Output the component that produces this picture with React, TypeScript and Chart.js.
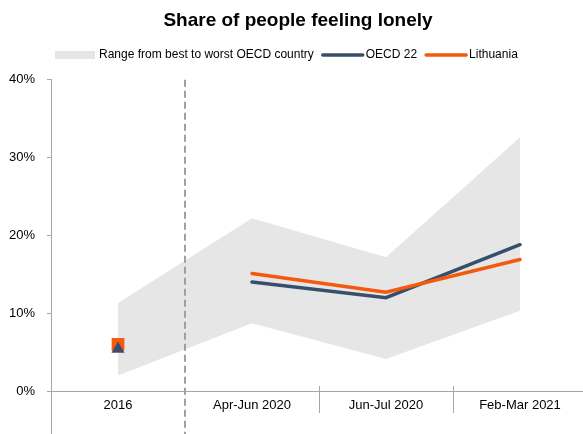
import React, { useEffect, useRef } from "react";
import { Chart, registerables } from "chart.js";

Chart.register(...registerables);

const categories = ["2016", "Apr-Jun 2020", "Jun-Jul 2020", "Feb-Mar 2021"];
const rangeLow = [2.0, 8.7, 4.1, 10.3];
const rangeHigh = [11.3, 22.2, 17.2, 32.6];
const oecd22 = [null, 14.0, 12.0, 18.8];
const lithuania = [null, 15.1, 12.7, 16.9];
const oecd2016 = [5.4, null, null, null];
const lithuania2016 = [6.0, null, null, null];
const yTicks = [0, 10, 20, 30, 40];

const legendItems = [
  { label: "Range from best to worst OECD country", kind: "box", color: "#e6e6e6" },
  { label: "OECD 22", kind: "line", color: "#374f6b" },
  { label: "Lithuania", kind: "line", color: "#f5590c" },
];

const FONT = '"Liberation Sans", Arial, sans-serif';

const decorPlugin = {
  id: "decor",
  afterDraw(chart: any) {
    const { ctx, chartArea, scales } = chart;
    const x = scales.x;
    const bottom = chart.height;
    ctx.save();
    // extend y axis line down
    ctx.strokeStyle = "#a6a6a6";
    ctx.lineWidth = 1;
    ctx.beginPath();
    ctx.moveTo(chartArea.left + 0.5, chartArea.bottom);
    ctx.lineTo(chartArea.left + 0.5, bottom);
    ctx.stroke();
    // category separators
    [1.5, 2.5, 3.5].forEach((v) => {
      const px = Math.round(x.getPixelForValue(v)) + 0.5;
      ctx.beginPath();
      ctx.moveTo(px, chartArea.bottom - 5);
      ctx.lineTo(px, chartArea.bottom + 22);
      ctx.stroke();
    });
    // dashed divider
    const dx = Math.round(x.getPixelForValue(0.5));
    ctx.strokeStyle = "#a0a0a0";
    ctx.lineWidth = 2;
    ctx.setLineDash([7, 4]);
    ctx.beginPath();
    ctx.moveTo(dx, chartArea.top);
    ctx.lineTo(dx, bottom);
    ctx.stroke();
    ctx.setLineDash([]);
    // legend
    ctx.font = "12px " + FONT;
    ctx.textBaseline = "middle";
    ctx.textAlign = "left";
    let cx = 55;
    const cy = 55;
    legendItems.forEach((it) => {
      if (it.kind === "box") {
        ctx.fillStyle = it.color;
        ctx.fillRect(cx, cy - 4, 40, 8);
      } else {
        ctx.strokeStyle = it.color;
        ctx.lineWidth = 3.5;
        ctx.lineCap = "round";
        ctx.beginPath();
        ctx.moveTo(cx + 1, cy);
        ctx.lineTo(cx + 41, cy);
        ctx.stroke();
      }
      cx += 44;
      ctx.fillStyle = "#000";
      ctx.fillText(it.label, cx, cy);
      cx += ctx.measureText(it.label).width + 8;
    });
    ctx.restore();
  },
};

export default function App() {
  const ref = useRef<HTMLCanvasElement>(null);
  useEffect(() => {
    if (!ref.current) return;
    Chart.defaults.font.family = FONT;
    const chart = new Chart(ref.current, {
      type: "line",
      data: {
        labels: categories,
        datasets: [
          {
            label: "OECD 22 2016",
            data: oecd2016,
            showLine: false,
            pointStyle: "triangle",
            pointRadius: 7.5,
            backgroundColor: "#374f6b",
            borderColor: "#374f6b",
            borderWidth: 0,
          },
          {
            label: "Lithuania 2016",
            data: lithuania2016,
            showLine: false,
            pointStyle: "rect",
            pointRadius: 9,
            backgroundColor: "#f5590c",
            borderColor: "#f5590c",
            borderWidth: 0,
          },
          {
            label: "Lithuania",
            data: lithuania,
            borderColor: "#f5590c",
            borderWidth: 3.5,
            pointRadius: 0,
            tension: 0,
            fill: false,
            borderCapStyle: "round",
          },
          {
            label: "OECD 22",
            data: oecd22,
            borderColor: "#374f6b",
            borderWidth: 3.5,
            pointRadius: 0,
            tension: 0,
            fill: false,
            borderCapStyle: "round",
          },
          {
            label: "Range low",
            data: rangeLow,
            borderWidth: 0,
            borderColor: "rgba(0,0,0,0)",
            pointRadius: 0,
            tension: 0,
            fill: false,
          },
          {
            label: "Range from best to worst OECD country",
            data: rangeHigh,
            borderWidth: 0,
            borderColor: "rgba(0,0,0,0)",
            backgroundColor: "#e6e6e6",
            pointRadius: 0,
            tension: 0,
            fill: "-1",
          },
        ],
      },
      options: {
        animation: false,
        responsive: false,
        devicePixelRatio: 1,
        layout: { autoPadding: false, padding: { left: 9, right: 0, top: 0, bottom: 0 } },
        plugins: {
          legend: { display: false },
          tooltip: { enabled: false },
          title: {
            display: true,
            text: "Share of people feeling lonely",
            color: "#000",
            font: { size: 19, weight: "bold", family: FONT },
            padding: { top: 9, bottom: 48 },
          },
        },
        scales: {
          x: {
            offset: true,
            grid: { display: false, drawTicks: false, tickLength: 0 },
            border: { display: true, color: "#a6a6a6", width: 1 },
            ticks: { color: "#000", font: { size: 13 }, padding: 7, maxRotation: 0 },
            afterFit: (s: any) => {
              s.height = 43;
              s.paddingLeft = 0;
              s.paddingRight = 0;
            },
          },
          y: {
            min: 0,
            max: 40,
            afterBuildTicks: (s: any) => {
              s.ticks = yTicks.map((v) => ({ value: v }));
            },
            grid: { display: true, drawOnChartArea: false, tickLength: 4, color: "#a6a6a6" },
            border: { display: true, color: "#a6a6a6", width: 1 },
            ticks: {
              color: "#000",
              font: { size: 13 },
              padding: 12,
              callback: (v: any) => v + "%",
            },
            afterFit: (s: any) => {
              s.width = 42;
            },
          },
        },
      },
      plugins: [decorPlugin],
    });
    return () => chart.destroy();
  }, []);
  return (
    <div style={{ position: "fixed", left: 0, top: 0, width: 583, height: 434, overflow: "hidden", background: "#fff" }}>
      <canvas ref={ref} width={587} height={434} style={{ width: 587, height: 434, display: "block" }} />
    </div>
  );
}
